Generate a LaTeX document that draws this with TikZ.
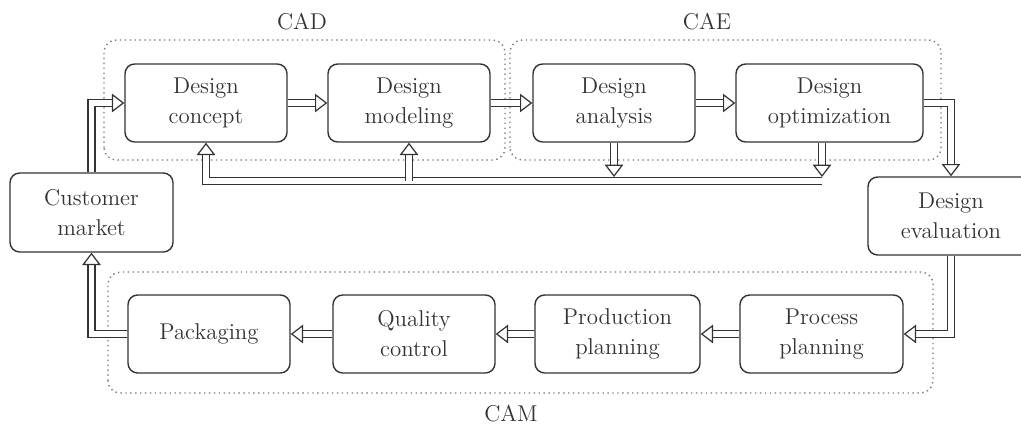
\documentclass[tikz,border=0pt]{standalone}
\usetikzlibrary{arrows.meta}
\definecolor{ink}{HTML}{333333}
\definecolor{dotgray}{HTML}{7A7A7A}
\tikzset{
  blok/.style={draw=ink, text=ink, line width=0.8pt, rounded corners=5.5pt,
    minimum width=162*0.02cm, minimum height=78*0.02cm, align=center,
    inner sep=0pt, font=\fontsize{13}{17}\selectfont},
  grp/.style={draw=dotgray, dotted, line width=0.8pt, rounded corners=7pt},
  lbl/.style={text=ink, font=\fontsize{13}{17}\selectfont},
  dbl/.style={draw=ink, double=white, double distance=3.2pt, line width=0.7pt,
    -{Triangle[open, length=7pt, width=10.5pt]}}
}
\begin{document}
\begin{tikzpicture}[x=0.02cm,y=0.02cm]
\useasboundingbox (0,0) rectangle (1021,427);
% groups
\draw[grp] (104,267) rectangle (505,387);
\draw[grp] (510,267) rectangle (941,387);
\draw[grp] (108,34) rectangle (933,155);
\node[lbl] (cadlbl) at (302,405) {CAD};
\node[lbl] (caelbl) at (707,405) {CAE};
\node[lbl] (camlbl) at (511,13) {CAM};
% boxes
\node[blok] (concept) at (206,324) {Design\\concept};
\node[blok] (modeling) at (409,324) {Design\\modeling};
\node[blok] (analysis) at (614,324) {Design\\analysis};
\node[blok, minimum width=187*0.02cm] (optim) at (829.5,324) {Design\\optimization};
\node[blok, minimum width=163*0.02cm, minimum height=79*0.02cm] (cust) at (91.5,214.5) {Customer\\market};
\node[blok, minimum width=166*0.02cm] (eval) at (951,211) {Design\\evaluation};
\node[blok] (pack) at (209,93) {Packaging};
\node[blok] (quality) at (414,93) {Quality\\control};
\node[blok, minimum width=165*0.02cm] (prod) at (617.5,93) {Production\\planning};
\node[blok, minimum width=163*0.02cm] (proc) at (821.5,93) {Process\\planning};
% main flow
\draw[dbl] (cust.north) |- (concept.west);
\draw[dbl] (concept) -- (modeling);
\draw[dbl] (modeling) -- (analysis);
\draw[dbl] (analysis) -- (optim);
\draw[dbl] (optim.east) -| (eval.north);
\draw[dbl] (eval.south) |- (proc.east);
\draw[dbl] (proc) -- (prod);
\draw[dbl] (prod) -- (quality);
\draw[dbl] (quality) -- (pack);
\draw[dbl] (pack.west) -| (cust.south);
% feedback
\coordinate (fbr) at (822,246);
\coordinate (fbtop) at (0,250);
\draw[dbl] (fbr) -| (concept.south);
\draw[dbl] (modeling.south |- fbr) -- (modeling.south);
\draw[dbl] (analysis.south) -- (analysis.south |- fbtop);
\draw[dbl] (optim.south -| fbr) -- (fbr |- fbtop);
\end{tikzpicture}
\end{document}
